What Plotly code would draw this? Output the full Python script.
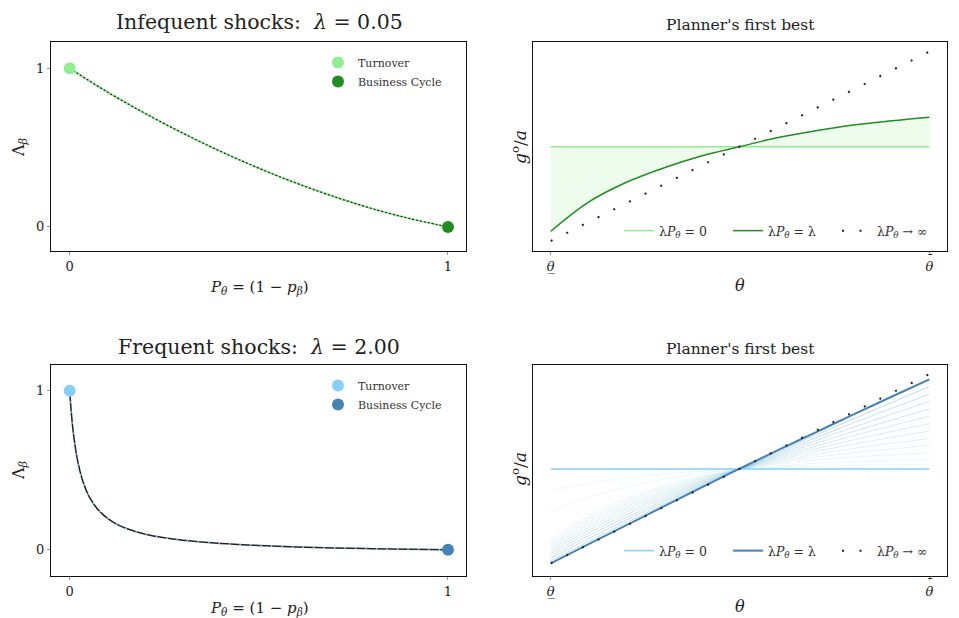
import plotly.graph_objects as go

# ---------------- data ----------------
# left panels: Lambda_beta vs P_theta
p_top = [0.0, 0.1, 0.2, 0.3, 0.4, 0.5, 0.6, 0.7, 0.8, 0.9, 1.0]
lam_top = [1.0, 0.85, 0.715, 0.59, 0.475, 0.37, 0.275, 0.19, 0.115, 0.052, 0.0]

p_bot = [0.0, 0.0025, 0.005, 0.01, 0.02, 0.035, 0.05, 0.075, 0.1, 0.125, 0.15, 0.2, 0.25, 0.3,
         0.4, 0.5, 0.6, 0.7, 0.8, 0.9, 1.0]
lam_bot = [1.0, 0.916, 0.844, 0.729, 0.572, 0.429, 0.341, 0.251, 0.197, 0.160, 0.134, 0.098, 0.0755, 0.060,
           0.039, 0.027, 0.018, 0.0115, 0.0068, 0.003, 0.0]

turnover_pt = (0.0, 1.0)
cycle_pt = (1.0, 0.0)

# right panels: g/a vs theta
theta = [0.0, 0.1, 0.2, 0.3, 0.4, 0.5, 0.6, 0.7, 0.8, 0.9, 1.0]
theta_ends = [0.0, 1.0]

flat_top = [1.0, 1.0]
lam_curve_top = [0.19, 0.47, 0.66, 0.80, 0.915, 1.003, 1.09, 1.155, 1.21, 1.25, 1.285]
inf_top = [0.096, 1.915]

flat_bot = [1.0, 1.0]
lam_curve_bot = [0.119, 0.297, 0.475, 0.653, 0.830, 1.005, 1.176, 1.343, 1.51, 1.675, 1.838]
inf_bot = [0.119, 1.887]

fan_bot = [
    [0.801, 0.868, 0.917, 0.953, 0.980, 1.0, 1.015, 1.026, 1.034, 1.040, 1.044],
    [0.603, 0.735, 0.834, 0.906, 0.960, 1.0, 1.029, 1.052, 1.068, 1.080, 1.089],
    [0.338, 0.559, 0.723, 0.844, 0.934, 1.0, 1.049, 1.086, 1.113, 1.133, 1.148],
    [0.316, 0.533, 0.698, 0.825, 0.924, 1.0, 1.062, 1.112, 1.153, 1.187, 1.217],
    [0.294, 0.507, 0.673, 0.806, 0.913, 1.0, 1.074, 1.137, 1.192, 1.241, 1.286],
    [0.272, 0.480, 0.649, 0.787, 0.903, 1.0, 1.087, 1.163, 1.232, 1.296, 1.355],
    [0.250, 0.454, 0.624, 0.768, 0.892, 1.0, 1.100, 1.189, 1.272, 1.350, 1.424],
    [0.228, 0.428, 0.599, 0.748, 0.882, 1.0, 1.113, 1.215, 1.312, 1.404, 1.493],
    [0.207, 0.402, 0.574, 0.729, 0.872, 1.0, 1.125, 1.240, 1.351, 1.458, 1.562],
    [0.185, 0.376, 0.549, 0.710, 0.861, 1.0, 1.138, 1.266, 1.391, 1.512, 1.631],
    [0.163, 0.349, 0.525, 0.691, 0.851, 1.0, 1.151, 1.292, 1.431, 1.567, 1.700],
    [0.141, 0.323, 0.500, 0.672, 0.840, 1.0, 1.163, 1.317, 1.470, 1.621, 1.769],
]

left_ticks = [0, 1]
left_ticktext = ["0", "1"]
right_ticks = [0, 1]
right_ticktext = ["<i>θ̲</i>", "<i>θ</i>"]
bar_tick = 1          # tick of the right panels that carries an over-bar (theta bar)

legend_left = ["Turnover", "Business Cycle"]
legend_right = ["λ<i>P</i><sub><i>θ</i></sub> = 0",
                "λ<i>P</i><sub><i>θ</i></sub> = λ",
                "λ<i>P</i><sub><i>θ</i></sub> → ∞"]

# ---------------- styling ----------------
OFF = 8                      # page body margin of the browser
W, H = 959 - OFF, 618 - OFF
SERIF = "DejaVu Serif, Liberation Serif, serif"
LGREEN, DGREEN = "#90EE90", "#228B22"
LBLUE, DBLUE = "#87CEFA", "#4682B4"

def px(x):
    return (x - OFF) / W

def py(y):
    return 1 - (y - OFF) / H

fig = go.Figure()

# ---- top-left ----
fig.add_trace(go.Scatter(x=p_top, y=lam_top, mode="lines", line=dict(color=LGREEN, width=2, shape="spline"),
                         showlegend=False, xaxis="x", yaxis="y"))
fig.add_trace(go.Scatter(x=p_top, y=lam_top, mode="lines", line=dict(color="#222", width=1.2, dash="2px,2px", shape="spline"),
                         showlegend=False, xaxis="x", yaxis="y"))
fig.add_trace(go.Scatter(x=[turnover_pt[0]], y=[turnover_pt[1]], mode="markers", name=legend_left[0],
                         marker=dict(color=LGREEN, size=12), legend="legend", xaxis="x", yaxis="y"))
fig.add_trace(go.Scatter(x=[cycle_pt[0]], y=[cycle_pt[1]], mode="markers", name=legend_left[1],
                         marker=dict(color=DGREEN, size=12), legend="legend", xaxis="x", yaxis="y"))

# ---- top-right ----
fig.add_trace(go.Scatter(x=theta_ends, y=flat_top, mode="lines", line=dict(width=0), showlegend=False,
                         hoverinfo="skip", xaxis="x2", yaxis="y2"))
fig.add_trace(go.Scatter(x=theta, y=lam_curve_top, mode="lines", line=dict(width=0, shape="spline"), fill="tonexty",
                         fillcolor="rgba(144,238,144,0.15)", showlegend=False, hoverinfo="skip", xaxis="x2", yaxis="y2"))
fig.add_trace(go.Scatter(x=theta_ends, y=flat_top, mode="lines", name=legend_right[0], line=dict(color=LGREEN, width=1.5),
                         legend="legend2", xaxis="x2", yaxis="y2"))
fig.add_trace(go.Scatter(x=theta, y=lam_curve_top, mode="lines", name=legend_right[1],
                         line=dict(color=DGREEN, width=1.5, shape="spline"), legend="legend2", xaxis="x2", yaxis="y2"))
fig.add_trace(go.Scatter(x=theta_ends, y=inf_top, mode="lines", name=legend_right[2],
                         line=dict(color="#222", width=2, dash="2px,15.5px"), legend="legend2", xaxis="x2", yaxis="y2"))

# ---- bottom-left ----
fig.add_trace(go.Scatter(x=p_bot, y=lam_bot, mode="lines", line=dict(color="#222", width=1.5, shape="spline"),
                         showlegend=False, xaxis="x3", yaxis="y3"))
fig.add_trace(go.Scatter(x=p_bot, y=lam_bot, mode="lines", line=dict(color=LBLUE, width=2, dash="1.5px,9px", shape="spline"),
                         showlegend=False, xaxis="x3", yaxis="y3"))
fig.add_trace(go.Scatter(x=[turnover_pt[0]], y=[turnover_pt[1]], mode="markers", name=legend_left[0],
                         marker=dict(color=LBLUE, size=12), legend="legend3", xaxis="x3", yaxis="y3"))
fig.add_trace(go.Scatter(x=[cycle_pt[0]], y=[cycle_pt[1]], mode="markers", name=legend_left[1],
                         marker=dict(color=DBLUE, size=12), legend="legend3", xaxis="x3", yaxis="y3"))

# ---- bottom-right ----
n = len(fan_bot)
for i, fan in enumerate(fan_bot):
    f = i / (n - 1)
    r = int(165 - f * 85)
    g = int(222 - f * 62)
    b = int(228 - f * 28)
    a = 0.25 + 0.2 * f
    fig.add_trace(go.Scatter(x=theta, y=fan, mode="lines", line=dict(color=f"rgba({r},{g},{b},{a:.2f})", width=0.8, shape="spline"),
                             showlegend=False, hoverinfo="skip", xaxis="x4", yaxis="y4"))
fig.add_trace(go.Scatter(x=theta_ends, y=flat_bot, mode="lines", name=legend_right[0], line=dict(color=LBLUE, width=1.5),
                         legend="legend4", xaxis="x4", yaxis="y4"))
fig.add_trace(go.Scatter(x=theta, y=lam_curve_bot, mode="lines", name=legend_right[1],
                         line=dict(color=DBLUE, width=2, shape="spline"), legend="legend4", xaxis="x4", yaxis="y4"))
fig.add_trace(go.Scatter(x=theta_ends, y=inf_bot, mode="lines", name=legend_right[2],
                         line=dict(color="#222", width=2, dash="2px,15.5px"), legend="legend4", xaxis="x4", yaxis="y4"))

# ---------------- axes ----------------
xl = [px(51), px(466)]
xr = [px(533), px(947)]
yt = [py(251), py(42)]
yb = [py(576), py(365)]

frame = dict(showline=True, linecolor="#111", linewidth=1.3, mirror=True, showgrid=False, zeroline=False,
             ticks="outside", ticklen=3, tickcolor="#999", tickfont=dict(family=SERIF, size=13, color="#222"))
frame_noticks = {k: v for k, v in frame.items() if k != "ticks"}

fig.update_layout(
    xaxis=dict(domain=xl, range=[-0.0494, 1.0476], tickvals=left_ticks, ticktext=left_ticktext, anchor="y", **frame),
    yaxis=dict(domain=yt, range=[-0.152, 1.166], tickvals=left_ticks, ticktext=left_ticktext, anchor="x", **frame),
    xaxis2=dict(domain=xr, range=[-0.0468, 1.0465], tickvals=right_ticks, ticktext=right_ticktext, anchor="y2", **frame),
    yaxis2=dict(domain=yt, range=[0, 2.007], showticklabels=False, anchor="x2", ticks="", **frame_noticks),
    xaxis3=dict(domain=xl, range=[-0.0494, 1.0476], tickvals=left_ticks, ticktext=left_ticktext, anchor="y3", **frame),
    yaxis3=dict(domain=yb, range=[-0.165, 1.162], tickvals=left_ticks, ticktext=left_ticktext, anchor="x3", **frame),
    xaxis4=dict(domain=xr, range=[-0.0468, 1.0465], tickvals=right_ticks, ticktext=right_ticktext, anchor="y4", **frame),
    yaxis4=dict(domain=yb, range=[0, 1.972], showticklabels=False, anchor="x4", ticks="", **frame_noticks),
)

leg_left_common = dict(font=dict(family=SERIF, size=11, color="#333"), bgcolor="rgba(0,0,0,0)",
                       xanchor="left", yanchor="top", itemclick=False, tracegroupgap=0, traceorder="normal")
leg_right_common = dict(font=dict(family=SERIF, size=12.5, color="#333"), bgcolor="rgba(0,0,0,0)",
                        orientation="h", xanchor="left", yanchor="middle", itemclick=False, traceorder="normal",
                        entrywidth=64, entrywidthmode="pixels")

fig.update_layout(
    legend=dict(x=px(318), y=py(48), **leg_left_common),
    legend3=dict(x=px(318), y=py(371), **leg_left_common),
    legend2=dict(x=px(619), y=py(231), **leg_right_common),
    legend4=dict(x=px(619), y=py(551), **leg_right_common),
)

ann = []
def add_text(text, x, y, size, angle=0):
    ann.append(dict(text=text, x=px(x), y=py(y), xref="paper", yref="paper", showarrow=False,
                    xanchor="center", yanchor="middle", textangle=angle,
                    font=dict(family=SERIF, size=size, color="#222")))

add_text("Infequent shocks:  <i>λ</i> = 0.05", 259, 22, 20.5)
add_text("Frequent shocks:  <i>λ</i> = 2.00", 259, 347, 20.5)
add_text("Planner's first best", 740, 25, 15.5)
add_text("Planner's first best", 740, 349, 15.5)
xt_left = "<i>P</i><sub><i>θ</i></sub> = (1 − <i>p</i><sub><i>β</i></sub>)"
add_text(xt_left, 259, 287, 15)
add_text(xt_left, 259, 608, 15)
add_text("Λ<sub><i>β</i></sub>", 19, 147, 16, -90)
add_text("Λ<sub><i>β</i></sub>", 19, 470, 16, -90)
add_text("<i>θ</i>", 740, 285, 16)
add_text("<i>θ</i>", 740, 606, 16)
add_text("<i>g</i><sup>o</sup>/<i>a</i>", 519, 147, 17, -90)
add_text("<i>g</i><sup>o</sup>/<i>a</i>", 519, 469, 17, -90)

# over-bar on the upper theta tick of each right panel
for xa, ybar in (("x2", 259), ("x4", 583)):
    ann.append(dict(text="¯", x=right_ticks[bar_tick] + 0.004, xref=xa, y=py(ybar), yref="paper", showarrow=False,
                    xanchor="center", yanchor="middle", font=dict(family=SERIF, size=13, color="#222")))

fig.update_layout(width=W, height=H, margin=dict(l=0, r=0, t=0, b=0), paper_bgcolor="white",
                  plot_bgcolor="white", annotations=ann, hovermode=False)

fig.write_html("out.html")
